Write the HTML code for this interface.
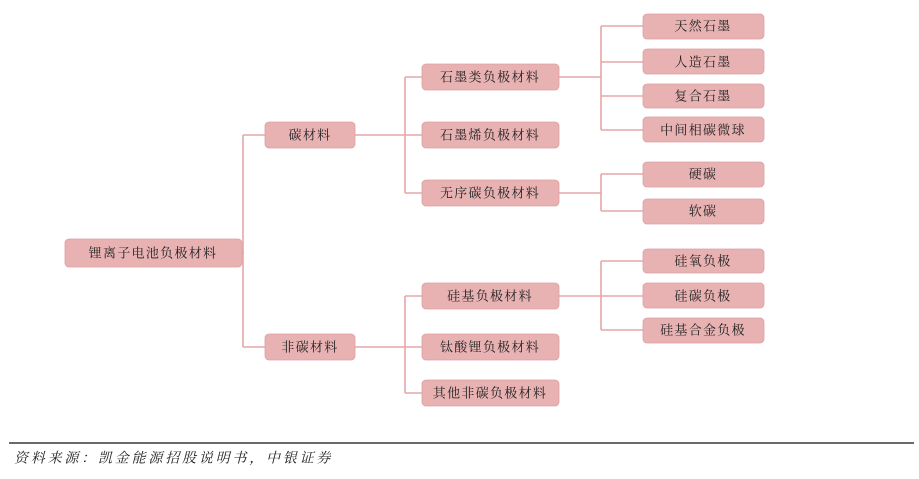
<!DOCTYPE html>
<html><head><meta charset="utf-8"><style>
html,body{margin:0;padding:0;background:#fff;width:919px;height:479px;overflow:hidden}
text{font-family:"Liberation Serif","Noto Serif CJK SC","Noto Sans CJK SC",serif;font-size:13px;fill:#222;text-anchor:middle;dominant-baseline:central;letter-spacing:1.3px}
rect{fill:#e8b2b3;stroke:#dca0a2;stroke-width:0.8}
line{stroke:#e6a7a8;stroke-width:1.6}
</style></head><body>
<svg width="919" height="479" xmlns="http://www.w3.org/2000/svg">
<line x1="242" y1="253" x2="244" y2="253"/>
<line x1="243" y1="135" x2="243" y2="347"/>
<line x1="243" y1="135" x2="265" y2="135"/>
<line x1="243" y1="347" x2="265" y2="347"/>
<line x1="355" y1="135" x2="405" y2="135"/>
<line x1="405" y1="77" x2="405" y2="193"/>
<line x1="405" y1="77" x2="422" y2="77"/>
<line x1="405" y1="135" x2="422" y2="135"/>
<line x1="405" y1="193" x2="422" y2="193"/>
<line x1="355" y1="347" x2="422" y2="347"/>
<line x1="405" y1="296" x2="405" y2="393"/>
<line x1="405" y1="296" x2="422" y2="296"/>
<line x1="405" y1="393" x2="422" y2="393"/>
<line x1="559" y1="77" x2="601" y2="77"/>
<line x1="601" y1="26" x2="601" y2="130"/>
<line x1="601" y1="26" x2="643" y2="26"/>
<line x1="601" y1="62" x2="643" y2="62"/>
<line x1="601" y1="96" x2="643" y2="96"/>
<line x1="601" y1="130" x2="643" y2="130"/>
<line x1="559" y1="193" x2="601" y2="193"/>
<line x1="601" y1="174" x2="601" y2="211"/>
<line x1="601" y1="174" x2="643" y2="174"/>
<line x1="601" y1="211" x2="643" y2="211"/>
<line x1="559" y1="296" x2="643" y2="296"/>
<line x1="601" y1="261" x2="601" y2="330"/>
<line x1="601" y1="261" x2="643" y2="261"/>
<line x1="601" y1="330" x2="643" y2="330"/>
<rect x="65" y="239" width="177" height="28" rx="4"/><text x="153" y="253">锂离子电池负极材料</text>
<rect x="265" y="122" width="90" height="26" rx="4"/><text x="310" y="135">碳材料</text>
<rect x="265" y="334" width="90" height="26" rx="4"/><text x="310" y="347">非碳材料</text>
<rect x="422" y="64" width="137" height="26" rx="4"/><text x="490" y="77">石墨类负极材料</text>
<rect x="422" y="122" width="137" height="26" rx="4"/><text x="490" y="135">石墨烯负极材料</text>
<rect x="422" y="180" width="137" height="26" rx="4"/><text x="490" y="193">无序碳负极材料</text>
<rect x="422" y="283" width="137" height="26" rx="4"/><text x="490" y="296">硅基负极材料</text>
<rect x="422" y="334" width="137" height="26" rx="4"/><text x="490" y="347">钛酸锂负极材料</text>
<rect x="422" y="380" width="137" height="26" rx="4"/><text x="490" y="393">其他非碳负极材料</text>
<rect x="643" y="14" width="121" height="25" rx="4"/><text x="703" y="26">天然石墨</text>
<rect x="643" y="49" width="121" height="25" rx="4"/><text x="703" y="62">人造石墨</text>
<rect x="643" y="84" width="121" height="24" rx="4"/><text x="703" y="96">复合石墨</text>
<rect x="643" y="117" width="121" height="25" rx="4"/><text x="703" y="130">中间相碳微球</text>
<rect x="643" y="162" width="121" height="25" rx="4"/><text x="703" y="174">硬碳</text>
<rect x="643" y="199" width="121" height="25" rx="4"/><text x="703" y="211">软碳</text>
<rect x="643" y="249" width="121" height="24" rx="4"/><text x="703" y="261">硅氧负极</text>
<rect x="643" y="283" width="121" height="25" rx="4"/><text x="703" y="296">硅碳负极</text>
<rect x="643" y="318" width="121" height="25" rx="4"/><text x="703" y="330">硅基合金负极</text>
<line x1="9" y1="443" x2="914" y2="443" style="stroke:#111;stroke-width:1.2"/>
<text x="14" y="459" style="text-anchor:start;font-style:italic;font-size:14px;letter-spacing:2.8px">资料来源：凯金能源招股说明书，中银证券</text>
</svg>
</body></html>
